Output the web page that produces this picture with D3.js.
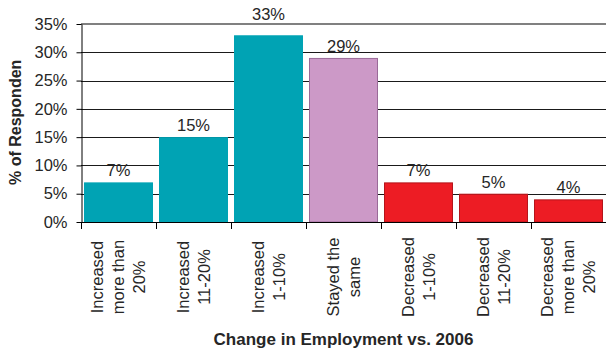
<!DOCTYPE html>
<html>
<head>
<meta charset="utf-8">
<script src="https://cdn.jsdelivr.net/npm/d3@7"></script>
<style>
  html, body { margin: 0; padding: 0; background: #fff; }
  svg { display: block; }
  text { font-family: "Liberation Sans", Arial, sans-serif; fill: #262626; }
</style>
</head>
<body>
<svg id="chart" width="606" height="352"></svg>
<script>
// Survey responses: change in employment compared with 2006
const categories = [
  ["Increased", "more than", "20%"],
  ["Increased", "11-20%"],
  ["Increased", "1-10%"],
  ["Stayed the", "same"],
  ["Decreased", "1-10%"],
  ["Decreased", "11-20%"],
  ["Decreased", "more than", "20%"]
];
const values = [7, 15, 33, 29, 7, 5, 4];
const groups = ["up", "up", "up", "same", "down", "down", "down"];
const yTicks = [0, 5, 10, 15, 20, 25, 30, 35];
const yTitle = "% of Responden";
const xTitle = "Change in Employment vs. 2006";

const fills = { up: "#00A3B4", same: "#CC99C7", down: "#ED1C24" };
const strokes = { up: "#00A3B4", same: "#9A6A98", down: "#B5151B" };

const svg = d3.select("#chart");
const plotLeft = 81, plotRight = 606, plotTop = 24, plotBottom = 222;

const keys = categories.map((c, i) => i);
const x = d3.scaleBand().domain(keys).range([plotLeft, plotRight])
  .paddingInner(0.08).paddingOuter(0.04);
const y = d3.scaleLinear().domain([0, 35]).range([plotBottom, plotTop]);

// horizontal gridlines
svg.append("g").selectAll("line")
  .data(yTicks.filter(v => v > 0 && v < 35))
  .join("line")
  .attr("x1", plotLeft).attr("x2", plotRight)
  .attr("y1", d => Math.round(y(d)) + 0.5).attr("y2", d => Math.round(y(d)) + 0.5)
  .attr("stroke", "#1a1a1a").attr("stroke-width", 1);

// top frame line
svg.append("line")
  .attr("x1", plotLeft).attr("x2", plotRight)
  .attr("y1", y(35)).attr("y2", y(35))
  .attr("stroke", "#808080").attr("stroke-width", 2);

// bars
svg.append("g").selectAll("rect")
  .data(values)
  .join("rect")
  .attr("x", (d, i) => x(i) + 0.5)
  .attr("y", d => y(d) + 0.5)
  .attr("width", x.bandwidth() - 1)
  .attr("height", d => y(0) - y(d) - 0.5)
  .attr("fill", (d, i) => fills[groups[i]])
  .attr("stroke", (d, i) => strokes[groups[i]])
  .attr("stroke-width", 1);

// value labels; a label that would cross the top frame line sits above it
const labelY = d => {
  const base = y(d) - 6;
  return base - 12 < y(35) + 2 ? y(35) - 4 : base;
};
svg.append("g").selectAll("text")
  .data(values)
  .join("text")
  .attr("x", (d, i) => x(i) + x.bandwidth() / 2)
  .attr("y", labelY)
  .attr("text-anchor", "middle")
  .attr("font-size", 16.5)
  .text(d => d + "%");

// y axis
const yAxis = d3.axisLeft(y).tickValues(yTicks).tickFormat(d => d + "%")
  .tickSize(5).tickSizeOuter(0).tickPadding(9);
const gy = svg.append("g").attr("transform", `translate(${plotLeft + 0.5},0)`).call(yAxis);
gy.select(".domain").attr("stroke", "#000");
gy.selectAll(".tick line").attr("stroke", "#000");
gy.selectAll(".tick text")
  .attr("font-size", 16.5)
  .attr("font-family", "Liberation Sans, Arial, sans-serif")
  .attr("fill", "#262626");

// x axis baseline and category boundary ticks
svg.append("line")
  .attr("x1", plotLeft).attr("x2", plotRight)
  .attr("y1", plotBottom + 0.5).attr("y2", plotBottom + 0.5)
  .attr("stroke", "#000");
const bounds = keys.map(i => x(i) - x.step() * x.paddingInner() / 2);
svg.append("g").selectAll("line")
  .data(bounds)
  .join("line")
  .attr("x1", d => Math.round(d) + 0.5).attr("x2", d => Math.round(d) + 0.5)
  .attr("y1", plotBottom).attr("y2", plotBottom + 7)
  .attr("stroke", "#000");

// rotated category labels
const lineGap = 21;
const catG = svg.append("g").selectAll("g")
  .data(categories)
  .join("g")
  .attr("transform", (d, i) => `translate(${x(i) + x.bandwidth() / 2},277) rotate(-90)`);
catG.each(function (lines) {
  const g = d3.select(this);
  const n = lines.length;
  lines.forEach((t, j) => {
    g.append("text")
      .attr("x", 0)
      .attr("y", (j - (n - 1) / 2) * lineGap)
      .attr("dy", "0.36em")
      .attr("text-anchor", "middle")
      .attr("font-size", 16.5)
      .text(t);
  });
});

// axis titles
svg.append("text")
  .attr("x", (plotLeft + plotRight) / 2)
  .attr("y", 345)
  .attr("text-anchor", "middle")
  .attr("font-size", 17)
  .attr("font-weight", "bold")
  .text(xTitle);

svg.append("text")
  .attr("transform", "translate(21,185) rotate(-90)")
  .attr("text-anchor", "start")
  .attr("font-size", 16)
  .attr("font-weight", "bold")
  .text(yTitle);
</script>
</body>
</html>
